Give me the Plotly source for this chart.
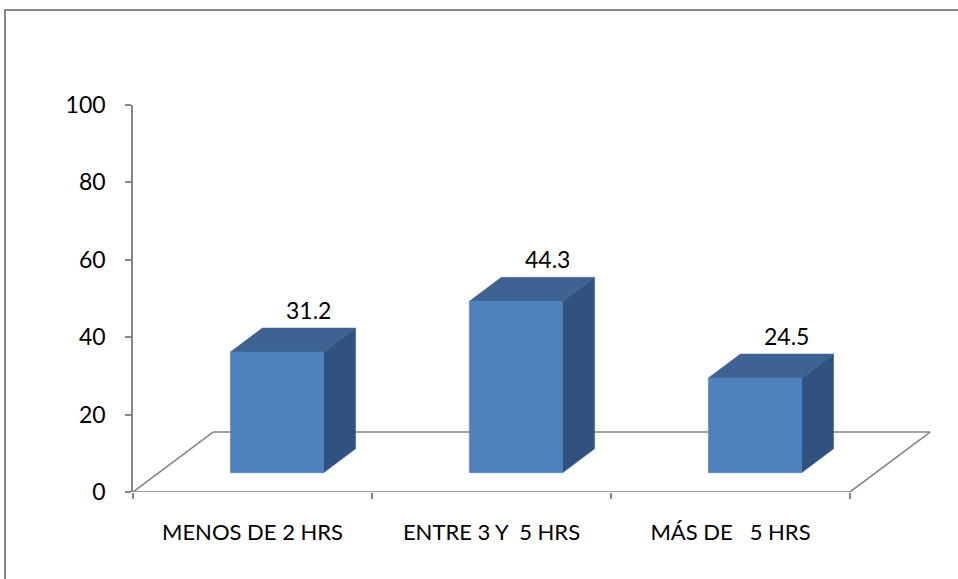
import plotly.graph_objects as go

# data
categories = ["MENOS DE 2 HRS", "ENTRE 3 Y  5 HRS", "MÁS DE   5 HRS"]
values = [31.2, 44.3, 24.5]
y_ticks = [0, 20, 40, 60, 80, 100]

# pseudo-3d look (in axis units): floor depth vector and bar placement
depth_x, depth_y = 0.335, 15.5
bar_left, bar_right = 0.30, 0.69     # fraction of each category slot
front, back = 0.32, 0.72             # fraction of floor depth

grey = "#868686"
col_front, col_top, col_side = "#4F81BD", "#3C6392", "#31527F"
font = "Lato"

fig = go.Figure()

n = len(categories)
# floor outline (drawn first so the bars sit on top)
floor_x = [[0, depth_x], [depth_x, n + depth_x], [n, n + depth_x], [0, n]]
floor_y = [[0, depth_y], [depth_y, depth_y], [0, depth_y], [0, 0]]
for fx, fy in zip(floor_x, floor_y):
    fig.add_trace(go.Scatter(x=fx, y=fy, mode="lines",
                             line=dict(color=grey, width=1.6),
                             hoverinfo="skip", showlegend=False))

for i, v in enumerate(values):
    x0 = i + bar_left
    x1 = i + bar_right
    fx, fy = front * depth_x, front * depth_y
    bx, by = back * depth_x, back * depth_y
    # side face
    fig.add_trace(go.Scatter(
        x=[x1 + fx, x1 + bx, x1 + bx, x1 + fx, x1 + fx],
        y=[fy, by, v + by, v + fy, fy],
        fill="toself", fillcolor=col_side, mode="lines",
        line=dict(color=col_side, width=0.5), hoverinfo="skip", showlegend=False))
    # top face
    fig.add_trace(go.Scatter(
        x=[x0 + fx, x1 + fx, x1 + bx, x0 + bx, x0 + fx],
        y=[v + fy, v + fy, v + by, v + by, v + fy],
        fill="toself", fillcolor=col_top, mode="lines",
        line=dict(color=col_top, width=0.5), hoverinfo="skip", showlegend=False))
    # front face
    fig.add_trace(go.Scatter(
        x=[x0 + fx, x1 + fx, x1 + fx, x0 + fx, x0 + fx],
        y=[fy, fy, v + fy, v + fy, fy],
        fill="toself", fillcolor=col_front, mode="lines",
        line=dict(color=col_front, width=0.5), hoverinfo="skip", showlegend=False))
    fig.add_annotation(x=(x0 + x1) / 2 + bx, y=v + by, text=str(v),
                       showarrow=False, yanchor="bottom", yshift=2,
                       font=dict(family=font, size=23, color="black"))

tick_pos = [i + 0.5 for i in range(n)]
fig.update_layout(
    width=958, height=579,
    margin=dict(l=133, r=22, t=105, b=87),
    paper_bgcolor="white", plot_bgcolor="white",
    font=dict(family=font, size=22, color="black"),
    xaxis=dict(range=[0, 803 / 239], showgrid=False, zeroline=False,
               showline=False, tickvals=tick_pos,
               ticktext=[c.replace(" ", "\u00a0") for c in categories],
               ticks="", ticklabelstandoff=25,
               tickfont=dict(family=font, size=22),
               minor=dict(tickvals=list(range(n + 1)), ticks="outside",
                          ticklen=6, tickcolor=grey, tickwidth=1.6)),
    yaxis=dict(range=[0, 100], tickvals=y_ticks, showgrid=False, zeroline=False,
               showline=True, linecolor=grey, linewidth=1.6,
               ticks="outside", ticklen=6, tickcolor=grey, tickwidth=1.6,
               ticklabelstandoff=15, tickfont=dict(family=font, size=23)),
    shapes=[dict(type="rect", xref="paper", yref="paper",
                 x0=-128 / 803, x1=1.2, y0=-0.4, y1=1 + 95 / 387,
                 line=dict(color=grey, width=2), layer="below")],
)

fig.write_html("out.html", config={"displayModeBar": False},
               post_script="document.body.style.margin='0px';")
